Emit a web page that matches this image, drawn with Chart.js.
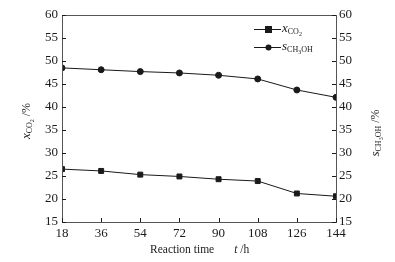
<!DOCTYPE html>
<html>
<head>
<meta charset="utf-8">
<script src="https://cdn.jsdelivr.net/npm/chart.js@4/dist/chart.umd.min.js"></script>
<style>
html,body{margin:0;padding:0;background:#fff;}
#wrap{width:395px;height:262px;position:relative;}
</style>
</head>
<body>
<div id="wrap"><canvas id="c" width="395" height="262"></canvas></div>
<script>
const times = [18, 36, 54, 72, 90, 108, 126, 144];
const xCO2 = [26.5, 26.1, 25.3, 24.9, 24.3, 23.9, 21.2, 20.6];
const sCH3OH = [48.5, 48.1, 47.7, 47.4, 46.9, 46.1, 43.7, 42.1];
const yTicks = [15, 20, 25, 30, 35, 40, 45, 50, 55, 60];
const xTitle = 'Reaction time';
const xTitleVar = 't';
const xTitleUnit = ' /h';

const SERIF = '"Liberation Serif", "Times New Roman", serif';
const INK = '#1a1a1a';

function drawRich(ctx, parts, x, y) {
  let cx = x;
  for (const p of parts) {
    ctx.font = (p.italic ? 'italic ' : '') + p.size + 'px ' + SERIF;
    ctx.fillText(p.t, cx, y + (p.dy || 0));
    cx += ctx.measureText(p.t).width;
  }
  return cx - x;
}
function richWidth(ctx, parts) {
  let w = 0;
  for (const p of parts) {
    ctx.font = (p.italic ? 'italic ' : '') + p.size + 'px ' + SERIF;
    w += ctx.measureText(p.t).width;
  }
  return w;
}
const xLabelParts = [
  {t: 'x', italic: true, size: 13},
  {t: 'CO', size: 8, dy: 3},
  {t: '2', size: 6, dy: 5}
];
const sLabelParts = [
  {t: 's', italic: true, size: 13},
  {t: 'CH', size: 8, dy: 3},
  {t: '3', size: 6, dy: 5},
  {t: 'OH', size: 8, dy: 3}
];

const decor = {
  id: 'decor',
  afterDraw(chart) {
    const ctx = chart.ctx;
    const a = chart.chartArea;
    ctx.save();
    ctx.strokeStyle = '#555';
    ctx.lineWidth = 1;
    ctx.strokeRect(Math.round(a.left) + 0.5, Math.round(a.top) + 0.5, Math.round(a.right - a.left), Math.round(a.bottom - a.top));
    ctx.strokeStyle = INK;
    ctx.beginPath();
    const xs = chart.scales.x, yl = chart.scales.y, yr = chart.scales.y2;
    xs.ticks.forEach(t => {
      const px = Math.round(xs.getPixelForValue(t.value)) + 0.5;
      ctx.moveTo(px, a.bottom); ctx.lineTo(px, a.bottom - 4);
    });
    yl.ticks.forEach(t => {
      const py = Math.round(yl.getPixelForValue(t.value)) + 0.5;
      ctx.moveTo(a.left, py); ctx.lineTo(a.left + 4, py);
    });
    yr.ticks.forEach(t => {
      const py = Math.round(yr.getPixelForValue(t.value)) + 0.5;
      ctx.moveTo(a.right, py); ctx.lineTo(a.right - 4, py);
    });
    ctx.stroke();

    ctx.fillStyle = INK;
    ctx.textBaseline = 'middle';
    // x axis title
    const fs = 11.5;
    ctx.font = fs + 'px ' + SERIF;
    const w1 = ctx.measureText(xTitle).width;
    ctx.font = 'italic ' + fs + 'px ' + SERIF;
    const w2 = ctx.measureText(xTitleVar).width;
    const gap = 20;
    let sx = 150;
    const ty = 250;
    ctx.font = fs + 'px ' + SERIF; ctx.fillText(xTitle, sx, ty); sx += w1 + gap;
    ctx.font = 'italic ' + fs + 'px ' + SERIF; ctx.fillText(xTitleVar, sx, ty); sx += w2;
    ctx.font = fs + 'px ' + SERIF; ctx.fillText(xTitleUnit, sx, ty);

    const lParts = xLabelParts.concat([{t: ' /%', size: 12}]);
    ctx.save();
    ctx.translate(27, 121);
    ctx.rotate(-Math.PI / 2);
    drawRich(ctx, lParts, -richWidth(ctx, lParts) / 2, 0);
    ctx.restore();
    const rParts = sLabelParts.concat([{t: ' /%', size: 12}]);
    ctx.save();
    ctx.translate(376, 133);
    ctx.rotate(-Math.PI / 2);
    drawRich(ctx, rParts, -richWidth(ctx, rParts) / 2, 0);
    ctx.restore();

    const entries = [
      {ds: chart.data.datasets[0], parts: xLabelParts, y: 29},
      {ds: chart.data.datasets[1], parts: sLabelParts, y: 47}
    ];
    entries.forEach(e => {
      ctx.strokeStyle = INK; ctx.lineWidth = 1;
      ctx.beginPath(); ctx.moveTo(254, e.y + 0.5); ctx.lineTo(281, e.y + 0.5); ctx.stroke();
      ctx.fillStyle = INK;
      if (e.ds.pointStyle === 'rect') {
        ctx.fillRect(265, e.y - 3, 7, 7);
      } else {
        ctx.beginPath(); ctx.arc(268.5, e.y + 0.5, 3, 0, Math.PI * 2); ctx.fill();
      }
      drawRich(ctx, e.parts, 282, e.y);
    });
    ctx.restore();
  }
};

new Chart(document.getElementById('c'), {
  type: 'line',
  data: {
    datasets: [
      {
        label: 'xCO2',
        data: times.map((t, i) => ({x: t, y: xCO2[i]})),
        yAxisID: 'y',
        borderColor: INK, backgroundColor: INK,
        borderWidth: 1, pointStyle: 'rect', pointRadius: 3.5,
        tension: 0
      },
      {
        label: 'sCH3OH',
        data: times.map((t, i) => ({x: t, y: sCH3OH[i]})),
        yAxisID: 'y2',
        borderColor: INK, backgroundColor: INK,
        borderWidth: 1, pointStyle: 'circle', pointRadius: 3,
        tension: 0
      }
    ]
  },
  options: {
    responsive: false,
    animation: false,
    devicePixelRatio: 1,
    layout: {padding: {top: 15, left: 0, right: 0, bottom: 0}},
    plugins: {legend: {display: false}, tooltip: {enabled: false}},
    scales: {
      x: {
        type: 'linear', min: 18, max: 144,
        afterBuildTicks: s => { s.ticks = times.map(v => ({value: v})); },
        afterFit: s => { s.height = 40; },
        grid: {display: false, drawTicks: false},
        border: {display: false},
        ticks: {color: INK, font: {family: SERIF, size: 13}, padding: 4, maxRotation: 0, autoSkip: false}
      },
      y: {
        position: 'left', min: 15, max: 60,
        afterBuildTicks: s => { s.ticks = yTicks.map(v => ({value: v})); },
        afterFit: s => { s.width = 62; },
        grid: {display: false, drawTicks: false},
        border: {display: false},
        ticks: {color: INK, font: {family: SERIF, size: 13}, padding: 4}
      },
      y2: {
        position: 'right', min: 15, max: 60,
        afterBuildTicks: s => { s.ticks = yTicks.map(v => ({value: v})); },
        afterFit: s => { s.width = 59; },
        grid: {display: false, drawTicks: false},
        border: {display: false},
        ticks: {color: INK, font: {family: SERIF, size: 13}, padding: 3}
      }
    }
  },
  plugins: [decor]
});
</script>
</body>
</html>
